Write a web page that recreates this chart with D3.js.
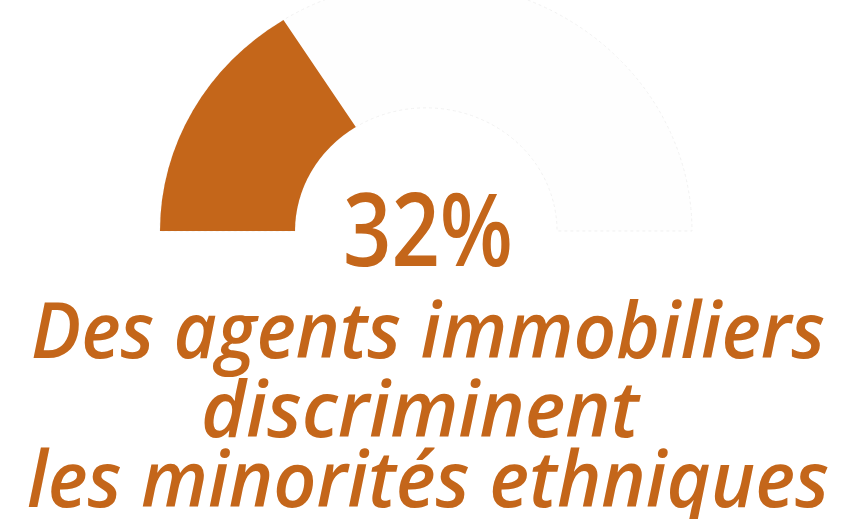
<!DOCTYPE html>
<html>
<head>
<meta charset="utf-8">
<script src="https://cdn.jsdelivr.net/npm/d3@7"></script>
<style>
  html, body { margin: 0; padding: 0; background: #ffffff; }
  svg { display: block; }
</style>
</head>
<body>
<svg id="chart" width="842" height="519"></svg>
<script>
// ---- data ----
const shareValue = [32];          // percent
const shareTotal = [100];
const valueLabel = ["32%"];
const captionLines = ["Des agents immobiliers", "discriminent", "les minorités ethniques"];

// ---- layout / style ----
const W = 842, H = 519;
const orange = "#c4661a";
const cx = 426, cy = 231, rOuter = 266, rInner = 131, squash = 0.94;
const captionLayout = [
  { x: 31, y: 358, len: 794 },
  { x: 201, y: 437, len: 438 },
  { x: 27, y: 507, len: 802 }
];

const svg = d3.select("#chart");

const angle = d3.scaleLinear().domain([0, shareTotal[0]]).range([-Math.PI / 2, Math.PI / 2]);
const arc = d3.arc().innerRadius(rInner).outerRadius(rOuter);

const g = svg.append("g").attr("transform", `translate(${cx},${cy}) scale(1,${squash})`);

// background track
g.append("path")
  .attr("d", arc({ startAngle: angle(0), endAngle: angle(shareTotal[0]) }))
  .attr("fill", "#fefefe")
  .attr("stroke", "#f1f1f1")
  .attr("stroke-width", 1)
  .attr("stroke-dasharray", "3,3");

// value arc
g.selectAll("path.val")
  .data(shareValue)
  .join("path")
  .attr("class", "val")
  .attr("d", d => arc({ startAngle: angle(0), endAngle: angle(d) }))
  .attr("fill", orange);

// value label
svg.append("text")
  .text(valueLabel[0])
  .attr("x", 343)
  .attr("y", 266)
  .attr("textLength", 170)
  .attr("lengthAdjust", "spacingAndGlyphs")
  .attr("font-family", "'Open Sans', sans-serif")
  .attr("font-weight", 600)
  .attr("font-size", 102)
  .attr("fill", orange);

// caption
svg.selectAll("text.cap")
  .data(captionLines)
  .join("text")
  .attr("class", "cap")
  .text(d => d)
  .attr("x", (d, i) => captionLayout[i].x)
  .attr("y", (d, i) => captionLayout[i].y)
  .attr("textLength", (d, i) => captionLayout[i].len)
  .attr("lengthAdjust", "spacingAndGlyphs")
  .attr("font-family", "'Open Sans', sans-serif")
  .attr("font-style", "italic")
  .attr("font-weight", 600)
  .attr("font-size", 78)
  .attr("fill", orange);
</script>
</body>
</html>
